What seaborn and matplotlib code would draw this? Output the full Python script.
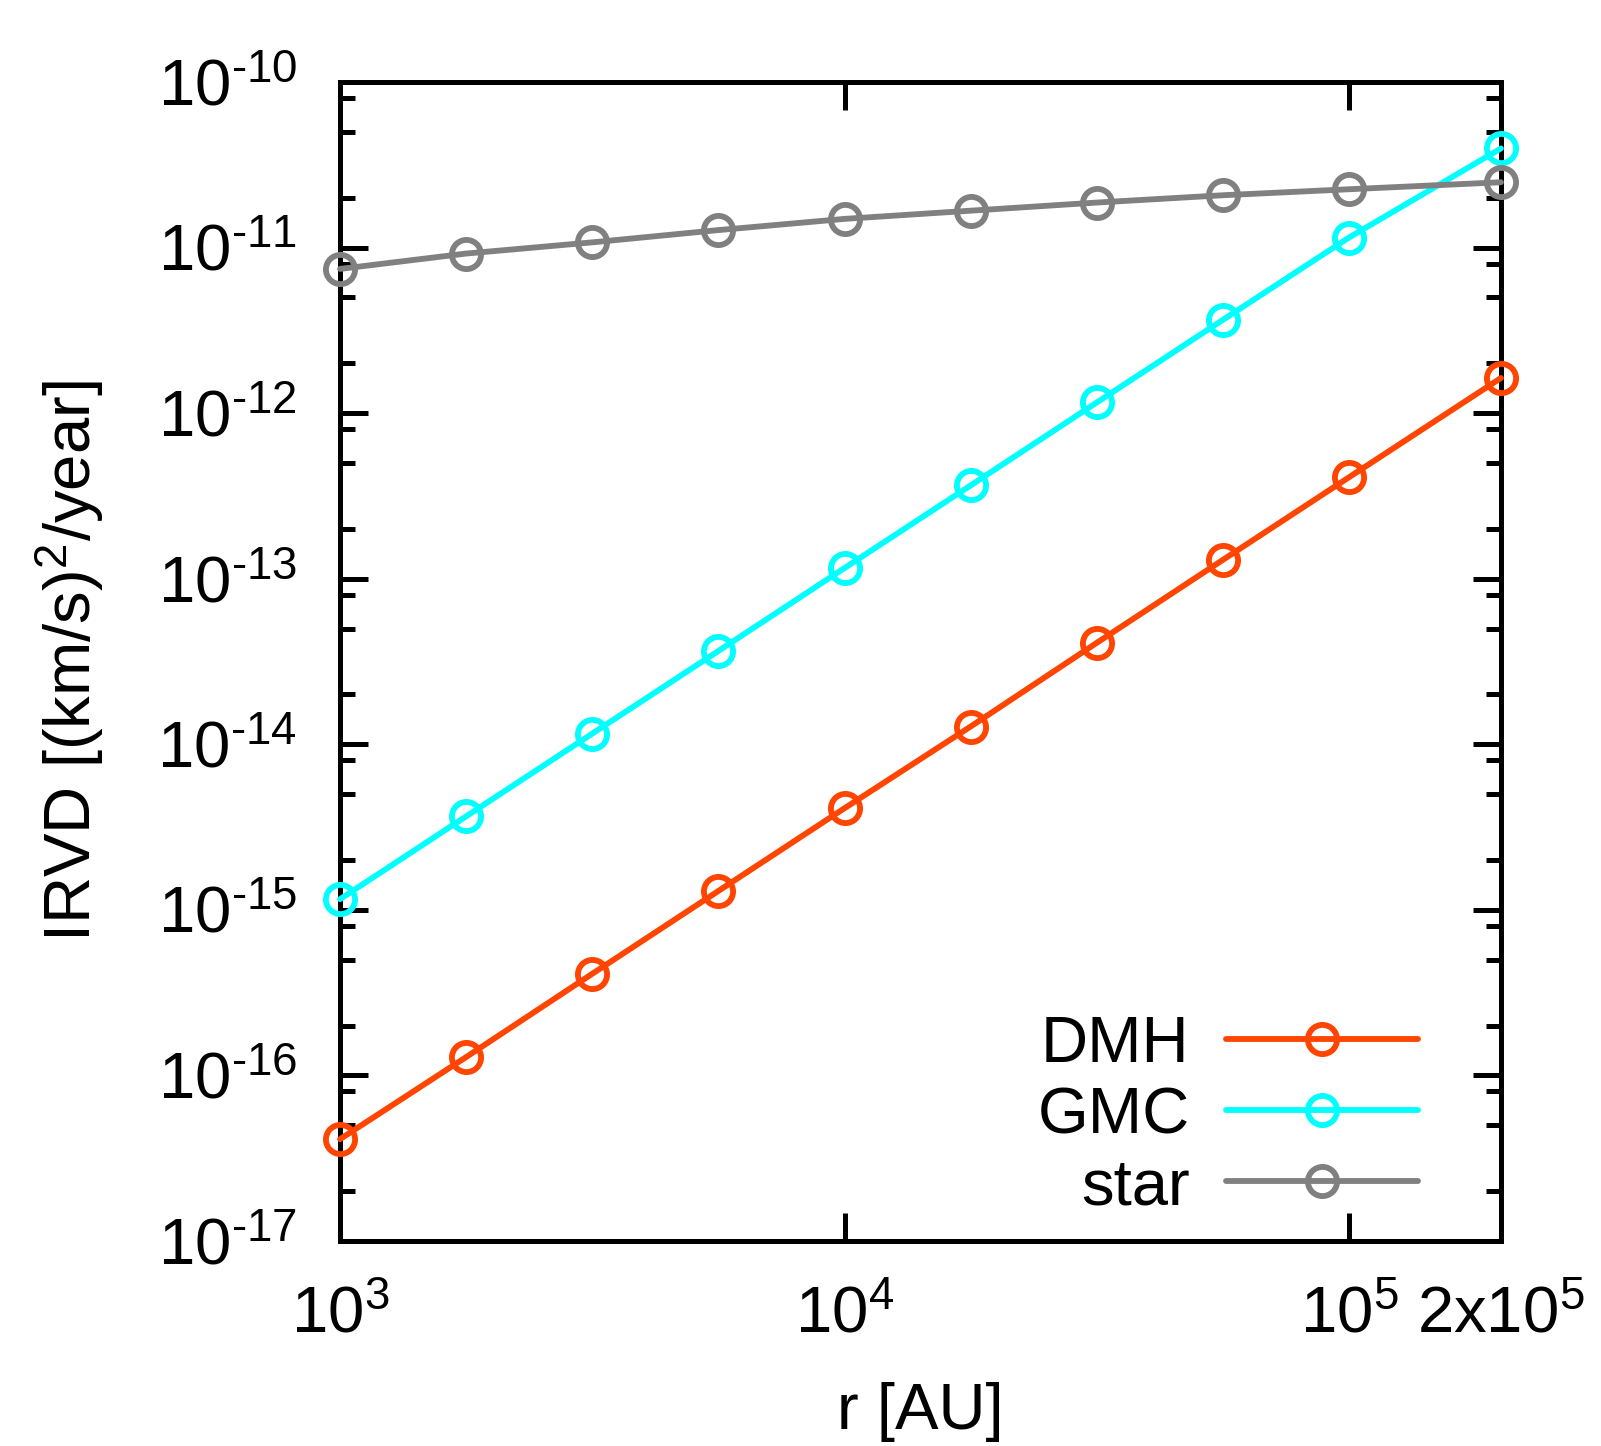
import matplotlib as mpl
mpl.use('Agg')

import matplotlib.pyplot as plt
import matplotlib.ticker as mticker
import seaborn as sns
import pandas as pd

sns.set_style("ticks")
plt.rcParams['font.family'] = ['Liberation Sans', 'DejaVu Sans']
plt.rcParams['mathtext.fontset'] = 'custom'
plt.rcParams['mathtext.rm'] = 'Liberation Sans'
plt.rcParams['mathtext.it'] = 'Liberation Sans'
plt.rcParams['mathtext.default'] = 'regular'
plt.rcParams['text.color'] = 'black'
plt.rcParams['axes.labelcolor'] = 'black'

# values
r_au = [1000, 1778, 3162, 5623, 10000, 17783, 31623, 56234, 100000, 200000]
dmh = [4.12e-17, 1.29e-16, 4.11e-16, 1.30e-15, 4.11e-15, 1.28e-14, 4.10e-14,
       1.30e-13, 4.10e-13, 1.63e-12]
gmc = [1.16e-15, 3.67e-15, 1.16e-14, 3.66e-14, 1.16e-13, 3.66e-13, 1.16e-12,
       3.66e-12, 1.15e-11, 3.97e-11]
star = [7.43e-12, 9.2e-12, 1.075e-11, 1.275e-11, 1.49e-11, 1.67e-11, 1.87e-11,
        2.07e-11, 2.25e-11, 2.48e-11]

series = ["DMH", "GMC", "star"]
colors = ["#ff4500", "#00ffff", "#808080"]

xticks = [1e3, 1e4, 1e5, 2e5]
xticklabels = ["$10^{3}$", "$10^{4}$", "$10^{5}$", "$2x10^{5}$"]
yticks = [1e-17, 1e-16, 1e-15, 1e-14, 1e-13, 1e-12, 1e-11, 1e-10]
yticklabels = [r"$10^{\text{-}17}$", r"$10^{\text{-}16}$", r"$10^{\text{-}15}$",
               r"$10^{\text{-}14}$", r"$10^{\text{-}13}$", r"$10^{\text{-}12}$",
               r"$10^{\text{-}11}$", r"$10^{\text{-}10}$"]

df = pd.DataFrame({"r": r_au * 3,
                   "irvd": dmh + gmc + star,
                   "src": sum([[s] * len(r_au) for s in series], [])})

fig = plt.figure(figsize=(16.01, 14.46), dpi=100)
ax = fig.add_axes([0.2124, 0.1418, 0.9375 - 0.2124, 0.9433 - 0.1418])

for name, col in zip(series, colors):
    sub = df[df.src == name]
    sns.lineplot(x="r", y="irvd", data=sub, ax=ax, color=col, label=name,
                 marker="o", markersize=21, markerfacecolor="none",
                 markeredgecolor=col, markeredgewidth=4.2, linewidth=4.2,
                 clip_on=False, zorder=3)

ax.set_xscale("log")
ax.set_yscale("log")
ax.set_xlim(1e3, 2e5)
ax.set_ylim(1e-17, 1e-10)

ax.xaxis.set_major_locator(mticker.FixedLocator(xticks))
ax.xaxis.set_major_formatter(mticker.FixedFormatter(xticklabels))
ax.xaxis.set_minor_locator(mticker.NullLocator())
ax.yaxis.set_major_locator(mticker.FixedLocator(yticks))
ax.yaxis.set_major_formatter(mticker.FixedFormatter(yticklabels))
ax.yaxis.set_minor_locator(mticker.LogLocator(base=10, subs=[2, 5, 8], numticks=20))
ax.yaxis.set_minor_formatter(mticker.NullFormatter())

ax.tick_params(which="both", direction="in", top=True, right=True,
               width=3.6, colors="black", labelsize=47)
ax.tick_params(which="major", length=20)
ax.tick_params(which="minor", length=11)
ax.tick_params(axis="x", which="major", pad=32)
ax.tick_params(axis="y", which="major", pad=31)
for sp in ax.spines.values():
    sp.set_linewidth(3.6)
    sp.set_color("black")

ax.set_xlabel("r [AU]", fontsize=47)
ax.set_ylabel("IRVD [(km/s)$^2$/year]", fontsize=47)
ax.xaxis.set_label_coords(0.5, -0.122)
ax.yaxis.set_label_coords(-0.202, 0.5)

ax.legend(loc="lower right", bbox_to_anchor=(0.968, -0.019), frameon=False,
          markerfirst=False, fontsize=47, handlelength=2.95,
          handletextpad=0.55, labelspacing=0.17, borderpad=0.2)

plt.savefig("out.png", dpi=100)
